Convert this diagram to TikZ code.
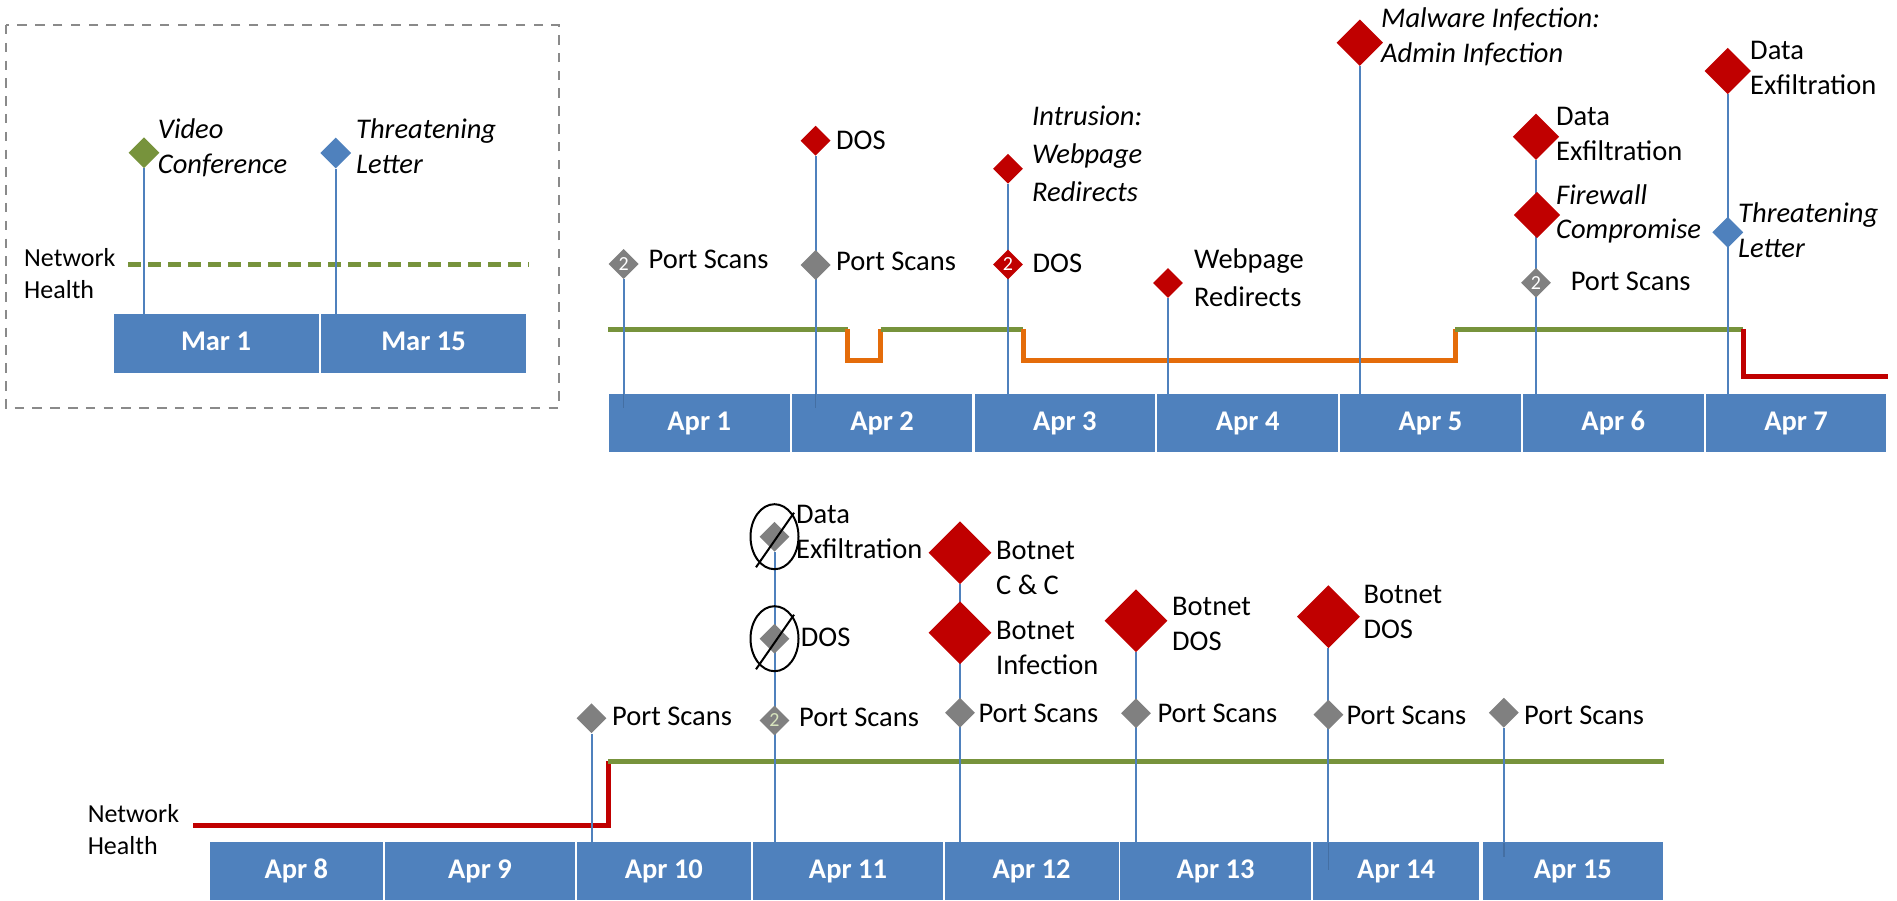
\documentclass[tikz,border=0pt]{standalone}
\usepackage{fontspec}
\setmainfont{Carlito}
\usetikzlibrary{shapes.geometric}

\definecolor{boxblue}{HTML}{4F81BD}
\definecolor{stemblue}{HTML}{4F81BD}
\definecolor{okgreen}{HTML}{77933C}
\definecolor{warnorange}{HTML}{E46C0A}
\definecolor{alertred}{HTML}{C00000}
\definecolor{scangray}{HTML}{808080}
\definecolor{framegray}{HTML}{8A8A8A}
\definecolor{palegreen}{HTML}{D7E4BD}

\newcommand\lblfont{\fontsize{28.5}{35}\selectfont}
\newcommand\smallnum{\fontsize{20}{24}\selectfont}

\pgfdeclarelayer{healthlayer}
\pgfdeclarelayer{stemlayer}
\pgfsetlayers{healthlayer,stemlayer,main}

\begin{document}
\begin{tikzpicture}[x=1pt,y=-1pt,
  day/.style={rectangle, fill=boxblue, inner sep=0pt, minimum height=58,
    text=white, font=\lblfont\bfseries, execute at begin node=\strut},
  stem/.style={draw=stemblue, line width=2},
  stemtail/.style={draw=stemblue!70!black, line width=1.6, opacity=0.45},
  gem/.style={shape=diamond, inner sep=0pt, minimum size=#1, text=white, font=\smallnum},
  gem/.default=30,
  lbl/.style={anchor=west, inner sep=0pt, align=left, font=\lblfont,
    execute at begin node=\strut, execute at end node=\strut},
  ilbl/.style={lbl, font=\lblfont\itshape},
  health/.style={line width=5, line cap=butt, line join=miter},
  cross/.style={draw=black, line width=2}
]
\useasboundingbox (0,0) rectangle (1897,901);

% ---------- legend panel ----------
\draw[framegray, line width=2.5, dash pattern=on 9.5 off 8.3] (6,25) rectangle (559,408);
\begin{pgfonlayer}{healthlayer}
  \draw[health, okgreen, dash pattern=on 13 off 7] (128,265) -- (528.6,265);
\end{pgfonlayer}
\node[lbl, font=\fontsize{26}{32}\selectfont] (nhA) at (24,278) {Network\\Health};

\node[gem=31, fill=okgreen] (vc) at (144,152.7) {};
\node[gem=31, fill=stemblue] (tl) at (335.7,153) {};
\coordinate (fvc) at (144,314);
\coordinate (ftl) at (335.7,314);
\begin{pgfonlayer}{stemlayer}
  \draw[stem] (vc.south) -- (fvc);
  \draw[stem] (tl.south) -- (ftl);
\end{pgfonlayer}
\node[ilbl] (lvc) at (157.7,151.7) {Video\\Conference};
\node[ilbl] (ltl) at (356,151.7) {Threatening\\Letter};

\node[day, minimum width=205, minimum height=59] (mar1) at (216,343.5) {Mar 1};
\node[day, minimum width=205, minimum height=59] (mar15) at (423.5,343.5) {Mar 15};

% ---------- April 1 - 7 ----------
\begin{pgfonlayer}{healthlayer}
  \draw[health, okgreen] (608,329) -- (847.5,329);
  \draw[health, warnorange] (847.5,329) -- (847.5,360.7) -- (880.7,360.7) -- (880.7,329);
  \draw[health, okgreen] (880.7,329) -- (1023,329);
  \draw[health, warnorange] (1023,329) -- (1023,360.7) -- (1455,360.7) -- (1455,329);
  \draw[health, okgreen] (1455,329) -- (1743,329);
  \draw[health, alertred] (1743,329) -- (1743,376.7) -- (1887.5,376.7);
\end{pgfonlayer}

\node[gem, fill=scangray] (p1) at (623.6,264) {2};
\node[gem, fill=alertred] (d2) at (815.6,140.7) {};
\node[gem, fill=scangray] (p2) at (815.6,265) {};
\node[gem, fill=alertred] (r3) at (1008,168.7) {};
\node[gem, fill=alertred] (d3) at (1008,264.5) {2};
\node[gem, fill=alertred] (r4) at (1168,283) {};
\node[gem=46.5, fill=alertred] (m5) at (1359.8,42.7) {};
\node[gem=46.5, fill=alertred] (x6) at (1536,136.7) {};
\node[gem=46.5, fill=alertred] (fw6) at (1537,215) {};
\node[gem, fill=scangray] (p6) at (1536,282.7) {2};
\node[gem=46.5, fill=alertred] (x7) at (1727.8,71) {};
\node[gem=31, fill=stemblue] (t7) at (1727.8,232.3) {};

\coordinate (f1) at (623.6,394.3);
\coordinate (f2) at (815.6,394.3);
\coordinate (f3) at (1008,394.3);
\coordinate (f4) at (1168,394.3);
\coordinate (f5) at (1359.8,394.3);
\coordinate (f6) at (1536,394.3);
\coordinate (f7) at (1727.8,394.3);
\begin{pgfonlayer}{stemlayer}
  \draw[stem] (p1.south) -- (f1);
  \draw[stem] (d2.south) -- (f2);
  \draw[stem] (r3.south) -- (f3);
  \draw[stem] (r4.south) -- (f4);
  \draw[stem] (m5.south) -- (f5);
  \draw[stem] (x6.south) -- (f6);
  \draw[stem] (x7.south) -- (f7);
\end{pgfonlayer}

\foreach \i/\t in {0/Apr 1,1/Apr 2,2/Apr 3,3/Apr 4,4/Apr 5,5/Apr 6,6/Apr 7}
  \node[day, minimum width=180.5] (a\i) at ({699.25+182.8*\i},423.3) {\t};

\coordinate (g1) at (623.6,408);
\coordinate (g2) at (815.6,408);
\draw[stemtail] (f1) -- (g1);
\draw[stemtail] (f2) -- (g2);

\node[lbl] (l1) at (648.5,261.7) {Port Scans};
\node[lbl] (l2a) at (836,143) {DOS};
\node[lbl] (l2b) at (836,263.5) {Port Scans};
\node[ilbl, font=\fontsize{28.5}{38}\selectfont\itshape] (l3a) at (1032,159.3) {Intrusion:\\Webpage\\Redirects};
\node[lbl] (l3b) at (1032.4,265.4) {DOS};
\node[lbl, font=\fontsize{28.5}{37.5}\selectfont] (l4) at (1194,283.3) {Webpage\\Redirects};
\node[ilbl] (l5) at (1381,40.5) {Malware Infection:\\Admin Infection};
\node[lbl] (l6a) at (1556,138.9) {Data\\Exfiltration};
\node[ilbl, font=\fontsize{28.5}{34.2}\selectfont\itshape] (l6b) at (1556,217) {Firewall\\Compromise};
\node[lbl] (l6c) at (1570.6,283.9) {Port Scans};
\node[lbl] (l7a) at (1750,73) {Data\\Exfiltration};
\node[ilbl, font=\fontsize{28.5}{34.2}\selectfont\itshape] (l7b) at (1738,235.3) {Threatening\\Letter};

% ---------- April 8 - 15 ----------
\begin{pgfonlayer}{healthlayer}
  \draw[health, alertred] (193,825) -- (608,825) -- (608,761);
  \draw[health, okgreen] (608,761) -- (1663.5,761);
\end{pgfonlayer}
\node[lbl, font=\fontsize{26}{32}\selectfont] (nhB) at (87.6,834.7) {Network\\Health};

\node[gem, fill=scangray] (p10) at (591.5,718.3) {};
\node[gem, fill=scangray] (x11) at (774.5,536.7) {};
\node[gem, fill=scangray] (d11) at (774.5,638.7) {};
\node[gem, fill=scangray, text=palegreen] (p11) at (774.5,720.5) {2};
\node[gem=63, fill=alertred] (c12) at (960,552.7) {};
\node[gem=63, fill=alertred] (i12) at (960,632.7) {};
\node[gem, fill=scangray] (p12) at (960,712.7) {};
\node[gem=63, fill=alertred] (b13) at (1136,620.7) {};
\node[gem, fill=scangray] (p13) at (1136,713.3) {};
\node[gem=63, fill=alertred] (b14) at (1328.4,616.7) {};
\node[gem, fill=scangray] (p14) at (1328.4,714.7) {};
\node[gem, fill=scangray] (p15) at (1503.8,712.7) {};

\coordinate (f10) at (591.5,842.5);
\coordinate (f11) at (774.5,842.5);
\coordinate (f12) at (960,842.5);
\coordinate (f13) at (1136,842.5);
\coordinate (f14) at (1328.4,842.5);
\coordinate (f15) at (1503.8,842.5);
\begin{pgfonlayer}{stemlayer}
  \draw[stem] (p10.south) -- (f10);
  \draw[stem] (x11.south) -- (f11);
  \draw[stem] (c12.south) -- (f12);
  \draw[stem] (b13.south) -- (f13);
  \draw[stem] (b14.south) -- (f14);
  \draw[stem] (p15.south) -- (f15);
\end{pgfonlayer}

% cancelled events: circled and struck through
\node[cross, ellipse, inner sep=0pt, minimum width=48, minimum height=65] (o1) at (774.5,536.7) {};
\node[cross, ellipse, inner sep=0pt, minimum width=48, minimum height=65] (o2) at (774.5,638.7) {};
\draw[cross] ([shift={(-18.5,30.6)}]o1.center) -- ([shift={(19.5,-24)}]o1.center);
\draw[cross] ([shift={(-18.5,30.6)}]o2.center) -- ([shift={(19.5,-24)}]o2.center);

\node[day, minimum width=173.8, minimum height=57.5] (c8)  at (296.4,871.2) {Apr 8};
\node[day, minimum width=190,   minimum height=57.5] (c9)  at (480,871.2) {Apr 9};
\node[day, minimum width=173.8, minimum height=57.5] (c10) at (663.9,871.2) {Apr 10};
\node[day, minimum width=190,   minimum height=57.5] (c11) at (848,871.2) {Apr 11};
\node[day, minimum width=174,   minimum height=57.5] (c12box) at (1031.6,871.2) {Apr 12};
\node[day, minimum width=190.1, minimum height=57.5] (c13) at (1215.5,871.2) {Apr 13};
\node[day, minimum width=166.5, minimum height=57.5] (c14) at (1396,871.2) {Apr 14};
\node[day, minimum width=180.3, minimum height=57.5] (c15) at (1572.9,871.2) {Apr 15};

\coordinate (g14) at (1328.4,870);
\coordinate (g15) at (1503.8,857);
\draw[stemtail] (f14) -- (g14);
\draw[stemtail] (f15) -- (g15);

\node[lbl] (l10) at (612,718.4) {Port Scans};
\node[lbl] (l11a) at (796,536.7) {Data\\Exfiltration};
\node[lbl] (l11b) at (800.7,639.7) {DOS};
\node[lbl] (l11c) at (799,719.4) {Port Scans};
\node[lbl] (l12a) at (996,573) {Botnet\\C \& C};
\node[lbl] (l12b) at (996,653) {Botnet\\Infection};
\node[lbl] (l12c) at (978.3,715.5) {Port Scans};
\node[lbl] (l13a) at (1172,629) {Botnet\\DOS};
\node[lbl] (l13b) at (1157.3,715.5) {Port Scans};
\node[lbl] (l14a) at (1363.3,617.2) {Botnet\\DOS};
\node[lbl] (l14b) at (1346.3,717.2) {Port Scans};
\node[lbl] (l15) at (1524,717.2) {Port Scans};
\end{tikzpicture}
\end{document}
